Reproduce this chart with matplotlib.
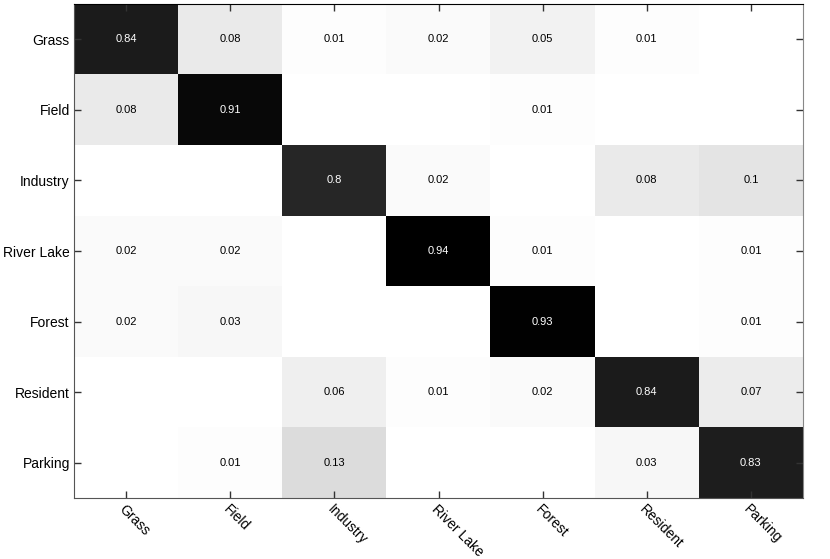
import numpy as np
import matplotlib
import matplotlib.pyplot as plt

matplotlib.use('AGG')
plt.rcParams['font.family'] = ['Liberation Sans', 'DejaVu Sans']

classes = ["Grass", "Field", "Industry", "River Lake", "Forest", "Resident", "Parking"]
grass = [0.84, 0.08, 0.01, 0.02, 0.05, 0.01, 0]
field = [0.08, 0.91, 0, 0, 0.01, 0, 0]
industry = [0, 0, 0.8, 0.02, 0, 0.08, 0.1]
river_lake = [0.02, 0.02, 0, 0.94, 0.01, 0, 0.01]
forest = [0.02, 0.03, 0, 0, 0.93, 0, 0.01]
resident = [0, 0, 0.06, 0.01, 0.02, 0.84, 0.07]
parking = [0, 0.01, 0.13, 0, 0, 0.03, 0.83]

mat = np.array([grass, field, industry, river_lake, forest, resident, parking])
vmax = mat.max()

fig = plt.figure(figsize=(8.3, 5.59), dpi=100)
ax = fig.add_axes([74 / 830, 1 - 498 / 559, 729 / 830, 494 / 559])
ax.imshow(mat, cmap='gray_r', vmin=0, vmax=vmax, aspect='auto', interpolation='nearest')

for i in range(mat.shape[0]):
    for j in range(mat.shape[1]):
        v = mat[i, j]
        if v == 0:
            continue
        col = 'white' if v / vmax > 0.5 else 'black'
        ax.text(j, i, '%g' % v, ha='center', va='center', fontsize=8, color=col)

n = len(classes)
ax.set_xticks(range(n))
ax.set_yticks(range(n))
ax.set_xticklabels(classes, rotation=-45, ha='left', rotation_mode='anchor', fontsize=10)
ax.set_yticklabels(classes, fontsize=10)
ax.tick_params(direction='in', length=5, top=True, right=True, width=1, color='#333333', pad=3)
for s in ['left', 'bottom']:
    ax.spines[s].set_color('#555555')
ax.spines['right'].set_color('#888888')
ax.spines['top'].set_color('black')

fig.savefig('out.png', dpi=100)
